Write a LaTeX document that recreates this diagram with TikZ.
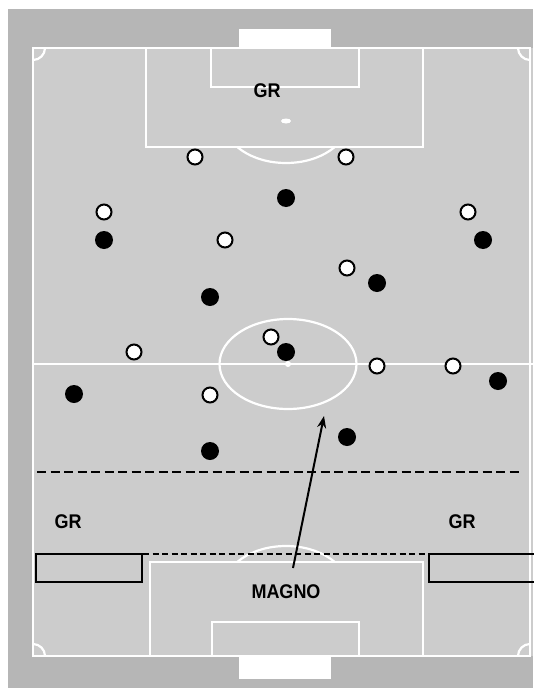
\documentclass[tikz,border=0pt]{standalone}
\usepackage{fontspec}
\setmainfont{Liberation Sans}
\usetikzlibrary{arrows.meta}

\definecolor{outergray}{RGB}{182,182,182}
\definecolor{pitchgray}{RGB}{204,204,204}

\begin{document}
\begin{tikzpicture}[
  x=1pt,y=-1pt,
  pitchline/.style={draw=white,line width=2.2pt},
  whiteplayer/.style={circle,draw=black,fill=white,line width=2pt,
                      minimum size=15pt,inner sep=0pt},
  blackplayer/.style={circle,fill=black,minimum size=18pt,inner sep=0pt},
  zonebox/.style={draw=black,line width=2pt},
  zoneline/.style={draw=black,dashed,line width=1.3pt},
  label/.style={font=\fontsize{18}{20}\selectfont\bfseries,inner sep=1pt,
                yscale=1.1},
  arr/.style={-{Stealth[length=12pt,width=9pt]},line width=2pt},
]
\useasboundingbox (0,0) rectangle (533,688);

%% ---- Ground and pitch ------------------------------------------------------
\fill[outergray] (8,9) rectangle (533,688);
\fill[pitchgray] (33,48) rectangle (533,656);
\fill[white] (239,29) rectangle (331,48);
\fill[white] (239,656) rectangle (331,679);

%% ---- Pitch markings --------------------------------------------------------
\draw[pitchline] (530,48) -- (33,48) -- (33,656) -- (530,656) -- cycle;
\draw[pitchline] (33,364) -- (533,364);
\draw[pitchline] (288,364) ellipse [x radius=68.5,y radius=45];
\fill[white] (288,364) circle (3);
% top area
\draw[pitchline] (146,48) -- (146,147) -- (423,147) -- (423,48);
\draw[pitchline] (211,48) -- (211,87) -- (359,87) -- (359,48);
\fill[white] (286,121) ellipse [x radius=5,y radius=2.5];
\begin{scope}
  \clip (146,148) rectangle (423,200);
  \draw[pitchline] (286,121) ellipse [x radius=62,y radius=42];
\end{scope}
% bottom area
\draw[pitchline] (150,656) -- (150,562) -- (423,562) -- (423,656);
\draw[pitchline] (212,656) -- (212,622) -- (359,622) -- (359,656);
\begin{scope}
  \clip (150,500) rectangle (423,561);
  \draw[pitchline] (286,588) ellipse [x radius=62,y radius=42];
\end{scope}
% corners
\draw[pitchline] (45,48) arc [start angle=0,end angle=90,radius=12];
\draw[pitchline] (518,48) arc [start angle=180,end angle=90,radius=12];
\draw[pitchline] (45,656) arc [start angle=0,end angle=-90,radius=12];
\draw[pitchline] (518,656) arc [start angle=180,end angle=270,radius=12];

%% ---- Zones -----------------------------------------------------------------
\draw[zoneline,dash pattern=on 9pt off 4.5pt] (37,472) -- (520,472);
\draw[zoneline,dash pattern=on 6pt off 3.5pt] (143,554) -- (429,554);
\draw[zonebox] (36,554) rectangle (142,582);
\draw[zonebox] (429,554) rectangle (540,582);

%% ---- White team ------------------------------------------------------------
\node[whiteplayer] (w1)  at (195,157) {};
\node[whiteplayer] (w2)  at (346,157) {};
\node[whiteplayer] (w3)  at (104,212) {};
\node[whiteplayer] (w4)  at (468,212) {};
\node[whiteplayer] (w5)  at (225,240) {};
\node[whiteplayer] (w6)  at (347,268) {};
\node[whiteplayer] (w7)  at (271,337) {};
\node[whiteplayer] (w8)  at (134,352) {};
\node[whiteplayer] (w9)  at (377,366) {};
\node[whiteplayer] (w10) at (453,366) {};
\node[whiteplayer] (w11) at (210,395) {};

%% ---- Black team ------------------------------------------------------------
\node[blackplayer] (b1)  at (286,198) {};
\node[blackplayer] (b2)  at (104,240) {};
\node[blackplayer] (b3)  at (483,240) {};
\node[blackplayer] (b4)  at (377,283) {};
\node[blackplayer] (b5)  at (210,297) {};
\node[blackplayer] (b6)  at (286,352) {};
\node[blackplayer] (b7)  at (74,394) {};
\node[blackplayer] (b8)  at (498,381) {};
\node[blackplayer] (b9)  at (347,437) {};
\node[blackplayer] (b10) at (210,451) {};

%% ---- Labels ----------------------------------------------------------------
\node[label] (grtop)   at (267,91)  {GR};
\node[label] (grleft)  at (68,522)  {GR};
\node[label] (grright) at (462,522) {GR};
\node[label] (magno)   at (286,592) {MAGNO};

%% ---- Arrow -----------------------------------------------------------------
\coordinate (magnotail) at (293,568);
\coordinate (magnotip)  at (324,416);
\draw[arr] (magnotail) -- (magnotip);

\end{tikzpicture}
\end{document}
